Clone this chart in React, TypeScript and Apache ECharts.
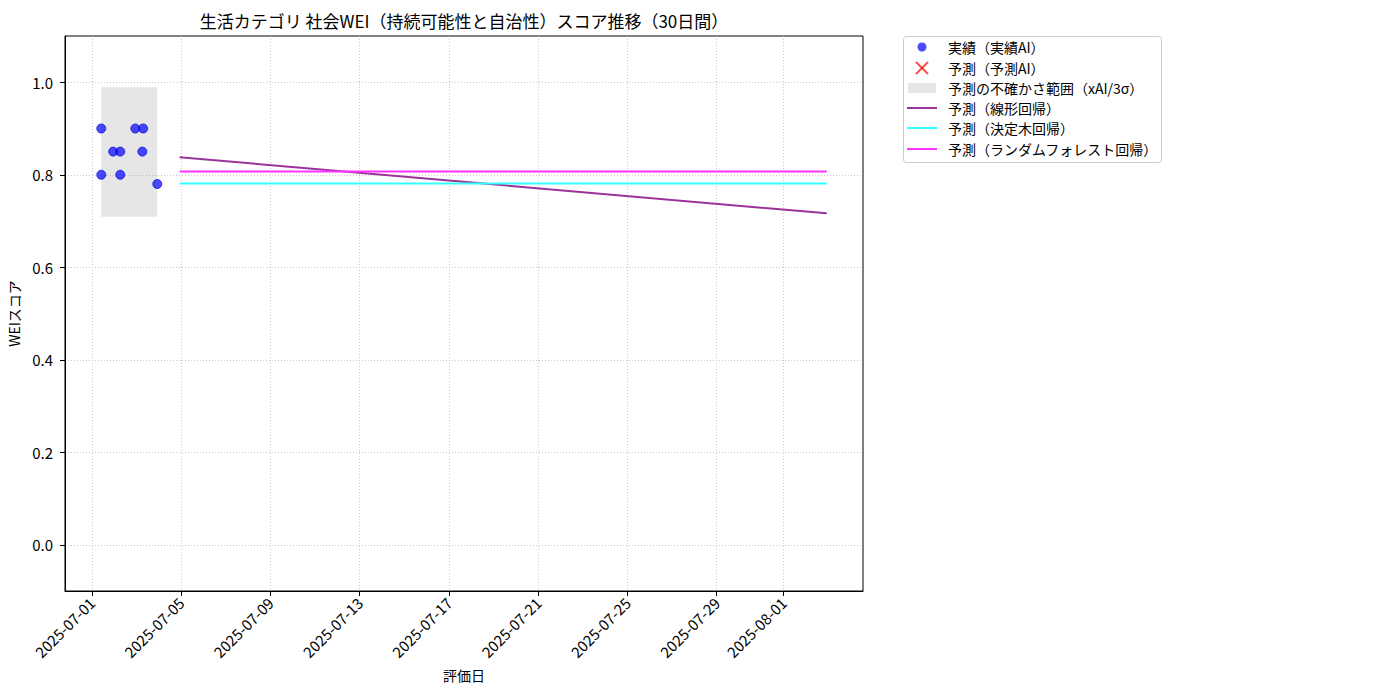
import React, { useEffect, useRef } from "react";
import * as echarts from "echarts";

const FONT = '"Noto Sans CJK JP", "Noto Sans", sans-serif';

const titleText = "生活カテゴリ 社会WEI（持続可能性と自治性）スコア推移（30日間）";
const xAxisName = "評価日";
const yAxisName = "WEIスコア";

const actualDates = [
  "2025-07-01T10:05", "2025-07-01T10:05", "2025-07-01T22:55",
  "2025-07-02T06:30", "2025-07-02T06:30", "2025-07-02T22:40",
  "2025-07-03T06:15", "2025-07-03T07:10", "2025-07-03T22:20",
];
const actualScores = [0.9, 0.8, 0.85, 0.85, 0.8, 0.9, 0.85, 0.9, 0.78];

const forecastDates = ["2025-07-04T22:20", "2025-08-02T22:20"];
const linearForecast = [0.838, 0.7165];
const treeForecast = [0.781, 0.781];
const forestForecast = [0.807, 0.807];

const bandLower = 0.709;
const bandUpper = 0.989;

const xTickDates = [
  "2025-07-01", "2025-07-05", "2025-07-09", "2025-07-13", "2025-07-17",
  "2025-07-21", "2025-07-25", "2025-07-29", "2025-08-01",
];
const yTicks = [0, 0.2, 0.4, 0.6, 0.8, 1.0];

const legendLabels = [
  "実績（実績AI）",
  "予測（予測AI）",
  "予測の不確かさ範囲（xAI/3σ）",
  "予測（線形回帰）",
  "予測（決定木回帰）",
  "予測（ランダムフォレスト回帰）",
];

const toTime = (s: string) => {
  const [d, t] = s.split("T");
  const [y, m, dd] = d.split("-").map(Number);
  const [hh, mm] = (t || "00:00").split(":").map(Number);
  return new Date(y, m - 1, dd, hh, mm).getTime();
};
const pad = (n: number) => (n < 10 ? "0" + n : "" + n);
const fmt = (v: number) => {
  const d = new Date(v);
  return `${d.getFullYear()}-${pad(d.getMonth() + 1)}-${pad(d.getDate())}`;
};

const C_BLUE = "rgba(0,0,255,0.7)";
const C_PURPLE = "rgb(153,51,153)";
const C_CYAN = "rgb(51,255,255)";
const C_MAGENTA = "rgb(255,51,255)";
const C_BAND = "rgba(128,128,128,0.2)";
const C_RED = "rgba(255,0,0,0.7)";
const C_GRID = "#bbbbbb";

export default function App() {
  const ref = useRef<HTMLDivElement>(null);
  useEffect(() => {
    if (!ref.current) return;
    const chart = echarts.init(ref.current, undefined, { renderer: "svg" });
    const aT = actualDates.map(toTime);
    const fT = forecastDates.map(toTime);
    const first = Math.min(...aT);
    const last = Math.max(...fT);
    const span = last - first;
    const xMin = first - 0.05 * span;
    const xMax = last + 0.05 * span;
    const xTicks = xTickDates.map(toTime);

    const gridLeft = 65, gridTop = 36, gridW = 798, gridH = 555;

    const lx = 903, ly = 36, lw = 258, lh = 126;
    const rowY = [47, 68, 88, 108, 128, 149];
    const legendGraphics: any[] = [
      { type: "rect", shape: { x: lx + 0.5, y: ly + 0.5, width: lw, height: lh, r: 3 },
        style: { fill: "#fff", stroke: "#cccccc", lineWidth: 1 } },
      { type: "circle", shape: { cx: 922, cy: rowY[0], r: 4.5 }, style: { fill: C_BLUE } },
      { type: "line", shape: { x1: 916, y1: rowY[1] - 6, x2: 928, y2: rowY[1] + 6 }, style: { stroke: C_RED, lineWidth: 2 } },
      { type: "line", shape: { x1: 916, y1: rowY[1] + 6, x2: 928, y2: rowY[1] - 6 }, style: { stroke: C_RED, lineWidth: 2 } },
      { type: "rect", shape: { x: 908, y: rowY[2] - 5, width: 28, height: 10 }, style: { fill: C_BAND } },
      { type: "line", shape: { x1: 907, y1: rowY[3], x2: 937, y2: rowY[3] }, style: { stroke: C_PURPLE, lineWidth: 2 } },
      { type: "line", shape: { x1: 907, y1: rowY[4], x2: 937, y2: rowY[4] }, style: { stroke: C_CYAN, lineWidth: 2 } },
      { type: "line", shape: { x1: 907, y1: rowY[5], x2: 937, y2: rowY[5] }, style: { stroke: C_MAGENTA, lineWidth: 2 } },
      ...legendLabels.map((t, i) => ({
        type: "text", x: 948, y: rowY[i],
        style: { text: t, font: `14px ${FONT}`, fill: "#000", textVerticalAlign: "middle", textAlign: "left" },
      })),
    ];

    chart.setOption({
      animation: false,
      backgroundColor: "#fff",
      textStyle: { fontFamily: FONT },
      grid: {
        left: gridLeft, top: gridTop, width: gridW, height: gridH,
        show: true, borderColor: "#000", borderWidth: 1,
        containLabel: false, outerBoundsMode: "none",
      },
      graphic: [
        { type: "text", x: gridLeft + gridW / 2, y: 20,
          style: { text: titleText, font: `17px ${FONT}`, fill: "#000", textAlign: "center", textVerticalAlign: "middle" } },
        ...legendGraphics,
      ],
      xAxis: {
        type: "value",
        min: xMin,
        max: xMax,
        name: xAxisName,
        nameLocation: "middle",
        nameGap: 77,
        nameTextStyle: { fontSize: 14, color: "#000", fontFamily: FONT },
        axisLine: { show: true, onZero: false, lineStyle: { color: "#000", width: 1 } },
        axisTick: { show: true, length: 5, lineStyle: { color: "#000" }, customValues: xTicks },
        axisLabel: {
          customValues: xTicks,
          rotate: 45,
          margin: 9,
          fontSize: 15,
          color: "#000",
          fontFamily: FONT,
          formatter: (v: number) => fmt(v),
        },
        splitLine: { show: true, lineStyle: { color: C_GRID, type: [1, 2], width: 0.8 } },
      },
      yAxis: {
        type: "value",
        min: -0.1,
        max: 1.1,
        name: yAxisName,
        nameLocation: "middle",
        nameGap: 39,
        nameTextStyle: { fontSize: 14, color: "#000", fontFamily: FONT },
        axisLine: { show: true, onZero: false, lineStyle: { color: "#000", width: 1 } },
        axisTick: { show: true, length: 5, lineStyle: { color: "#000" }, customValues: yTicks },
        axisLabel: {
          customValues: yTicks,
          margin: 12,
          fontSize: 15,
          color: "#000",
          fontFamily: FONT,
          formatter: (v: number) => v.toFixed(1),
        },
        splitLine: { show: true, lineStyle: { color: C_GRID, type: [1, 2], width: 0.8 } },
      },
      series: [
        {
          name: legendLabels[2],
          type: "line",
          data: [],
          markArea: {
            silent: true,
            itemStyle: { color: C_BAND },
            data: [[{ xAxis: first, yAxis: bandLower }, { xAxis: Math.max(...aT), yAxis: bandUpper }]],
          },
        },
        {
          name: legendLabels[3],
          type: "line",
          data: fT.map((t, i) => [t, linearForecast[i]]),
          showSymbol: false,
          lineStyle: { color: C_PURPLE, width: 2 },
          itemStyle: { color: C_PURPLE },
        },
        {
          name: legendLabels[4],
          type: "line",
          data: fT.map((t, i) => [t, treeForecast[i]]),
          showSymbol: false,
          lineStyle: { color: C_CYAN, width: 2 },
          itemStyle: { color: C_CYAN },
        },
        {
          name: legendLabels[5],
          type: "line",
          data: fT.map((t, i) => [t, forestForecast[i]]),
          showSymbol: false,
          lineStyle: { color: C_MAGENTA, width: 2 },
          itemStyle: { color: C_MAGENTA },
        },
        {
          name: legendLabels[1],
          type: "scatter",
          data: [],
          itemStyle: { color: C_RED },
        },
        {
          name: legendLabels[0],
          type: "scatter",
          symbolSize: 9,
          data: aT.map((t, i) => [t, actualScores[i]]),
          itemStyle: { color: C_BLUE, opacity: 1, borderColor: "rgba(0,0,220,0.7)", borderWidth: 1 },
          z: 5,
        },
      ],
    });
    return () => chart.dispose();
  }, []);
  return <div ref={ref} style={{ position: "fixed", left: 0, top: 0, width: 1400, height: 700 }} />;
}
